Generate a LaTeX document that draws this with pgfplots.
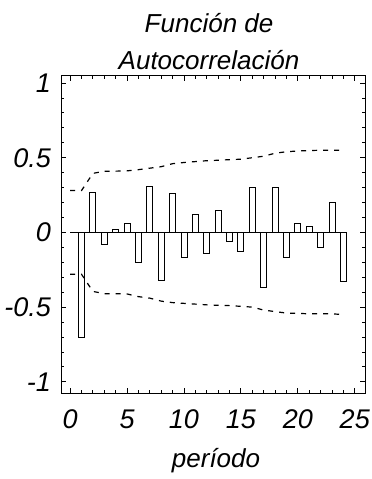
\documentclass[border=0pt]{standalone}
\usepackage{pgfplots}
\pgfplotsset{compat=1.18}
\usepackage{fontspec}
\setmainfont{Liberation Sans}
\begin{document}
\begin{tikzpicture}
\useasboundingbox (0,0) rectangle (372bp,479bp);
\begin{axis}[
  at={(61bp,86bp)}, anchor=south west,
  scale only axis, width=304bp, height=317bp,
  xmin=-0.8, xmax=25.9, ymin=-1.075, ymax=1.047,
  xtick={0,5,...,25}, xticklabels={0,5,10,15,20,25},
  ytick={-1,-0.5,0,0.5,1}, yticklabels={-1,-0.5,0,0.5,1},
  minor x tick num=4, minor y tick num=4,
  tick align=inside, major tick length=5bp, minor tick length=3bp,
  tick style={black, line width=0.8bp},
  axis line style={line width=1bp},
  ticklabel style={font=\fontsize{27bp}{27bp}\selectfont\itshape},
  x tick label style={anchor=base, yshift=-35bp},
  y tick label style={anchor=east, inner sep=0pt, xshift=-10bp},
  clip=false,
]
\addplot[ybar, bar width=6bp, draw=black, fill=white, line width=0.8bp] coordinates {
(1,-0.70) (2,0.27) (3,-0.08) (4,0.02) (5,0.06) (6,-0.20) (7,0.31) (8,-0.32)
(9,0.26) (10,-0.17) (11,0.12) (12,-0.14) (13,0.15) (14,-0.06) (15,-0.13) (16,0.30)
(17,-0.37) (18,0.30) (19,-0.17) (20,0.06) (21,0.04) (22,-0.10) (23,0.20) (24,-0.33)};
\addplot[black, line width=1.6bp] coordinates {(0,0) (24,0)};
\addplot[black, line width=1.2bp, dash pattern=on 5bp off 6bp] coordinates {
(0,0.28) (1,0.28) (2,0.395) (3,0.41) (4,0.41) (5,0.412) (6,0.42) (7,0.43) (8,0.44)
(9,0.46) (10,0.468) (11,0.474) (12,0.48) (13,0.483) (14,0.487) (15,0.49) (16,0.50)
(17,0.51) (18,0.53) (19,0.54) (20,0.545) (21,0.548) (22,0.55) (23,0.55) (24,0.55)};
\addplot[black, line width=1.2bp, dash pattern=on 5bp off 6bp] coordinates {
(0,-0.28) (1,-0.28) (2,-0.395) (3,-0.41) (4,-0.41) (5,-0.412) (6,-0.43) (7,-0.44) (8,-0.46)
(9,-0.47) (10,-0.475) (11,-0.48) (12,-0.485) (13,-0.488) (14,-0.49) (15,-0.495) (16,-0.50)
(17,-0.52) (18,-0.53) (19,-0.54) (20,-0.542) (21,-0.545) (22,-0.545) (23,-0.545) (24,-0.55)};
\node[anchor=base, font=\fontsize{26bp}{26bp}\selectfont\itshape] at (rel axis cs:0.487,1) [yshift=43bp] {Función de};
\node[anchor=base, font=\fontsize{26bp}{26bp}\selectfont\itshape] at (rel axis cs:0.487,1) [yshift=6bp] {Autocorrelación};
\node[anchor=base, font=\fontsize{26bp}{26bp}\selectfont\itshape] at (rel axis cs:0.51,0) [yshift=-74bp] {período};
\end{axis}
\end{tikzpicture}
\end{document}
